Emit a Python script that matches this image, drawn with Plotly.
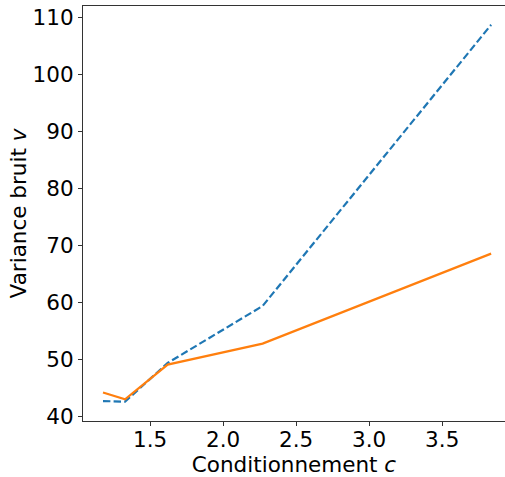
import plotly.graph_objects as go

conditionnement = [1.177, 1.328, 1.62, 2.27, 3.835]
variance_bleu = [42.7, 42.6, 49.4, 59.4, 108.8]
variance_orange = [44.2, 43.0, 49.1, 52.8, 68.6]

x_ticks = [1.5, 2.0, 2.5, 3.0, 3.5]
y_ticks = [40, 50, 60, 70, 80, 90, 100, 110]

fig = go.Figure()
fig.add_trace(go.Scatter(x=conditionnement, y=variance_bleu, mode="lines",
                         line=dict(color="#1f77b4", width=2.2, dash="7.4px,3.2px")))
fig.add_trace(go.Scatter(x=conditionnement, y=variance_orange, mode="lines",
                         line=dict(color="#ff7f0e", width=2.2)))

font = dict(family="DejaVu Sans", size=21.5, color="black")
fig.update_layout(
    width=505, height=477,
    margin=dict(l=83, r=0, t=6, b=56, autoexpand=False),
    paper_bgcolor="white", plot_bgcolor="white",
    showlegend=False,
    font=font,
    xaxis=dict(range=[1.04, 3.93], tickvals=x_ticks, ticktext=[f"{v:.1f}" for v in x_ticks],
               showgrid=False, zeroline=False, showline=True, mirror=True, automargin=False,
               linecolor="#333", linewidth=1.2, ticks="outside", ticklen=4,
               tickcolor="#333", tickfont=font, ticklabelstandoff=-5,
               title=dict(text="Conditionnement <i>c</i>", font=font, standoff=0)),
    yaxis=dict(range=[39.2, 112.1], tickvals=y_ticks, automargin=False,
               showgrid=False, zeroline=False, showline=True, mirror=False,
               linecolor="#333", linewidth=1.2, ticks="outside", ticklen=4,
               tickcolor="#333", tickfont=font,
               title=dict(text="Variance bruit <i>v</i>", font=font, standoff=0)),
)
fig.write_html("out.html", config={"displayModeBar": False},
               post_script="document.body.style.margin='0';document.body.style.overflow='hidden';")
